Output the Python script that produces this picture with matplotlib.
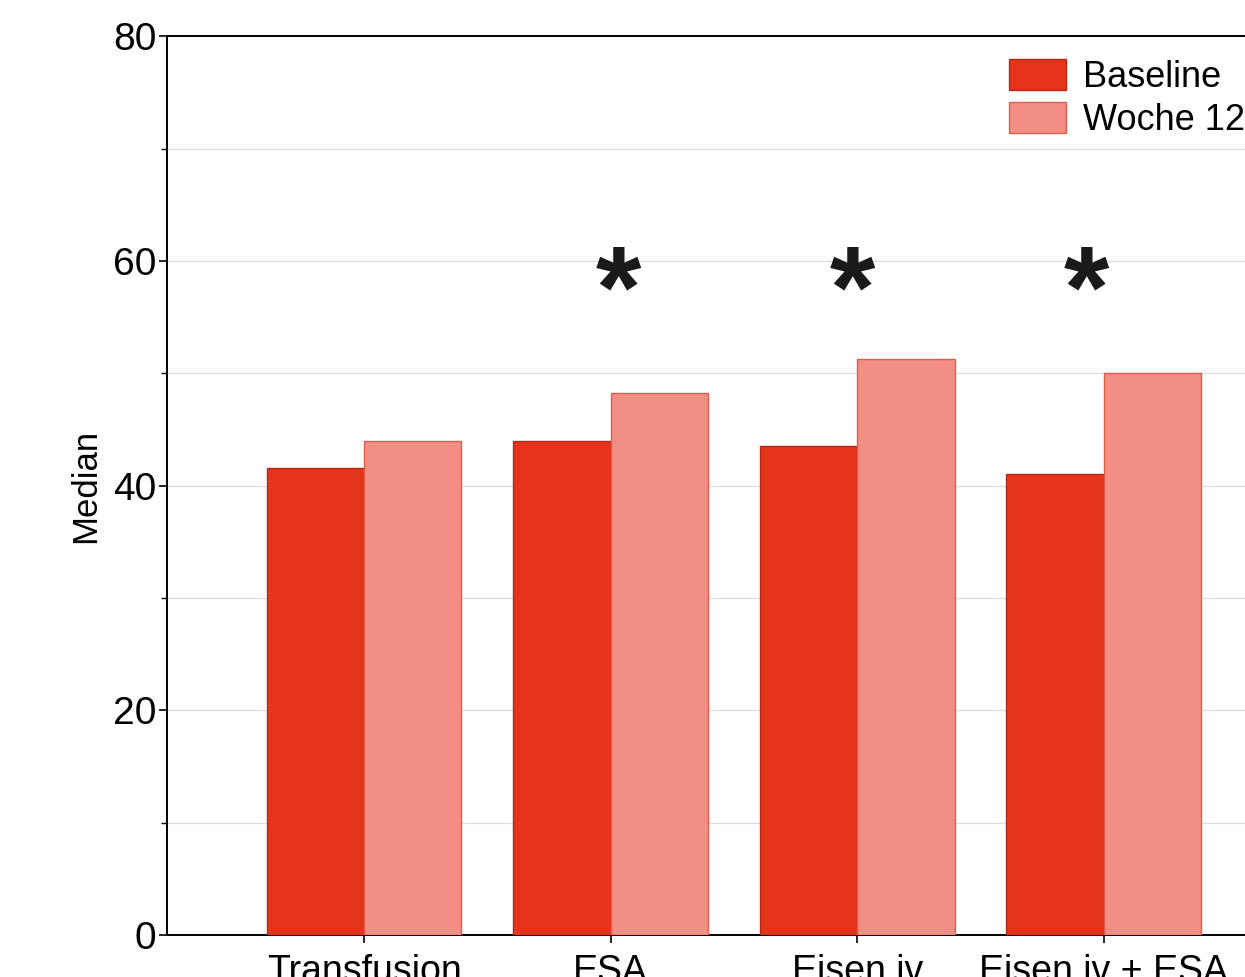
import matplotlib.pyplot as plt
import numpy as np

plt.rcParams['font.family'] = ['Liberation Sans', 'DejaVu Sans']

groups = ["Transfusion", "ESA", "Eisen iv", "Eisen iv + ESA"]
baseline = [41.6, 44.0, 43.5, 41.0]
woche12 = [44.0, 48.2, 51.3, 50.0]
# significance markers: x position on the category axis
star_x = [1.03, 1.98, 2.93]

fig = plt.figure(figsize=(12.45, 9.77), dpi=100)
# axes run past the right edge of the figure, so the plot is cut off there
ax = fig.add_axes([0.134, 0.043, 0.911, 0.920])

x = np.arange(len(groups))
w = 0.395
ax.bar(x - w / 2, baseline, w, color="#E5341B", edgecolor="#B8261A", linewidth=1.0,
       label="Baseline", zorder=3)
ax.bar(x + w / 2, woche12, w, color="#F28E84", edgecolor="#DE5E4E", linewidth=1.0,
       label="Woche 12", zorder=3)

for sx in star_x:
    ax.text(sx, 56.8, "*", ha="center", va="center", fontsize=84,
            fontweight="bold", color="#1a1a1a", zorder=4)

ax.set_xlim(-0.8, 3.8)
ax.set_ylim(0, 80)
ax.set_yticks([0, 20, 40, 60, 80])
ax.set_yticks([10, 30, 50, 70], minor=True)
ax.yaxis.grid(True, which="both", color="#dddddd", linewidth=1.0, zorder=0)
ax.set_xticks(x)
ax.set_xticklabels(groups)
ax.tick_params(axis="y", which="major", labelsize=28, length=6, width=1.2, direction="out", pad=1.5)
ax.tick_params(axis="x", which="major", labelsize=27, length=6, width=1.2, direction="out", pad=8)
ax.tick_params(axis="y", which="minor", length=4, width=1.0)
ax.set_ylabel("Median", fontsize=25, labelpad=8)
for s in ax.spines.values():
    s.set_linewidth(1.4)

ax.legend(loc="upper left", bbox_to_anchor=(0.730, 0.991), frameon=False, fontsize=26,
          handlelength=1.58, handleheight=0.95, labelspacing=0.2, handletextpad=0.45,
          borderaxespad=0)

fig.savefig("out.png", dpi=100)
